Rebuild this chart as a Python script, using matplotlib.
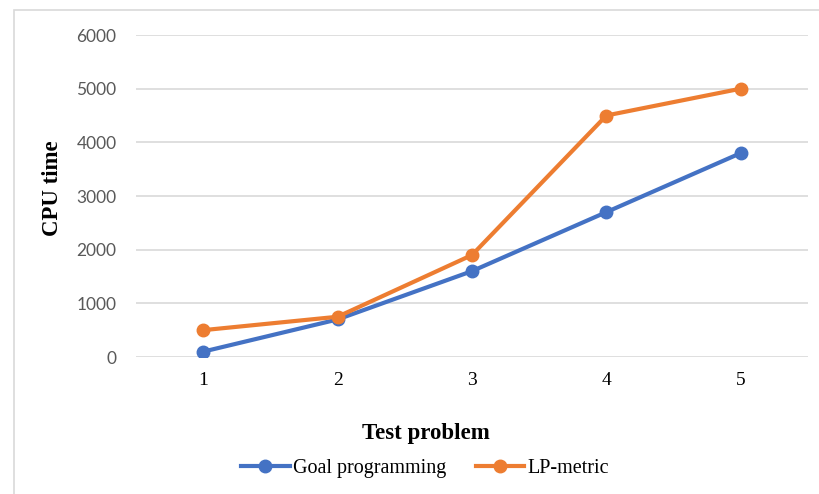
import matplotlib.pyplot as plt
from matplotlib.patches import Rectangle

# Data
problems = ['1', '2', '3', '4', '5']
goal_programming = [100, 700, 1600, 2700, 3800]
lp_metric = [500, 750, 1900, 4500, 5000]

W, H = 819, 494
fig = plt.figure(figsize=(W / 100, H / 100), dpi=100)

# light chart frame like the spreadsheet export (right and bottom run off the page)
fig.patches.append(Rectangle((14 / W, -0.2), 1.2, 1.2 - 10 / H, transform=fig.transFigure,
                             fill=False, edgecolor='#d9d9d9', lw=1.2))

ax = fig.add_axes([136 / W, 1 - 357 / H, (808 - 136) / W, (357 - 35) / H])

x = list(range(1, len(problems) + 1))
ax.plot(x, goal_programming, color='#4472C4', lw=3, marker='o', ms=9,
        label='Goal programming', zorder=3)
ax.plot(x, lp_metric, color='#ED7D31', lw=3, marker='o', ms=9,
        label='LP-metric', zorder=3)

# Formatting
ax.set_xlim(0.5, 5.5)
ax.set_ylim(0, 6000)
ax.set_yticks(range(0, 6001, 1000))
ax.set_xticks(x)
ax.set_xticklabels(problems, fontfamily='Liberation Serif', fontsize=14)
for lbl in ax.get_yticklabels():
    lbl.set_fontfamily('Lato')
    lbl.set_fontsize(12.5)
    lbl.set_color('#595959')
ax.tick_params(axis='both', length=0)
ax.tick_params(axis='y', pad=14)
ax.tick_params(axis='x', pad=11)
ax.grid(axis='y', color='#d9d9d9', lw=1.2)
ax.set_axisbelow(True)
for s in ax.spines.values():
    s.set_visible(False)

# axis titles placed where the reference has them
fig.text(426 / W, 1 - 433 / H, 'Test problem', ha='center', va='center',
         fontfamily='Liberation Serif', fontweight='bold', fontsize=16.5)
fig.text(52 / W, 1 - 188 / H, 'CPU time', ha='center', va='center', rotation=90,
         fontfamily='Liberation Serif', fontweight='bold', fontsize=16.5)

fig.legend(loc='center', bbox_to_anchor=(425 / W, 1 - 468 / H), ncol=2, frameon=False,
           prop={'family': 'Liberation Serif', 'size': 14.5}, handlelength=2.4,
           handletextpad=0.15, columnspacing=1.5)

plt.savefig('out.png', dpi=100)
